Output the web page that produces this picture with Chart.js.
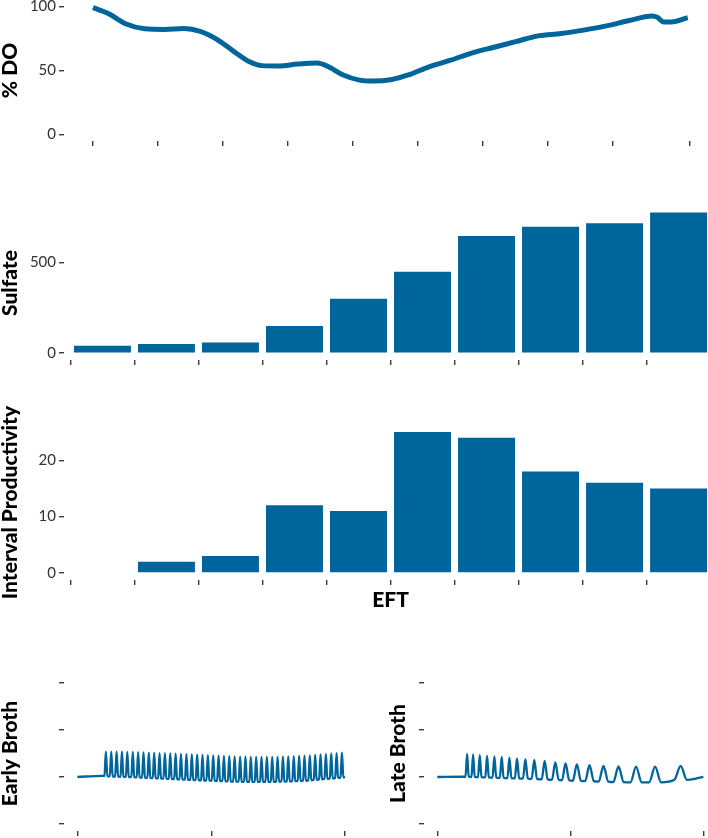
<!DOCTYPE html>
<html lang="en">
<head>
<meta charset="UTF-8">
<title>EFT panels</title>
<script src="https://cdn.jsdelivr.net/npm/chart.js"></script>
<style>
  body { margin: 0; background: #fff; overflow: hidden; }
  .page { position: relative; width: 708px; height: 838px; overflow: hidden; background: #fff; }
  canvas { position: absolute; }
</style>
</head>
<body>
<div class="page">
  <canvas id="doChart" width="720" height="159" style="left:0;top:-10px"></canvas>
  <canvas id="sulfateChart" width="720" height="182" style="left:0;top:186px"></canvas>
  <canvas id="prodChart" width="720" height="216" style="left:0;top:395px"></canvas>
  <canvas id="earlyChart" width="360" height="182" style="left:0;top:656px"></canvas>
  <canvas id="lateChart" width="360" height="182" style="left:360px;top:656px"></canvas>
</div>
<script>
// % DO trace (time in sample-interval units)
const doTime = [0, 0.25, 0.5, 0.8, 1.1, 1.4, 1.65, 1.9, 2.15, 2.4, 2.6, 2.85, 3.15, 3.45, 3.6, 3.85, 4.1, 4.3, 4.6, 4.85,
                5.15, 5.5, 5.85, 6.2, 6.5, 6.85, 7.2, 7.55, 7.9, 8.25, 8.6, 8.68, 8.78, 8.9, 9.15];
const doPct = [99, 94, 86.5, 82.5, 82, 82.7, 80.5, 74.5, 65.5, 57, 53.8, 53.5, 55, 55.8, 53.5, 46.5, 42.5, 41.8, 43, 46.5,
               52.5, 58, 64, 68.5, 72.5, 77, 78.8, 81.5, 84.8, 89, 92.5, 91.5, 87.8, 87.8, 91.2];
const doTicks = [0, 1, 2, 3, 4, 5, 6, 7, 8, 9.18];

// samples along EFT
const samples = [1, 2, 3, 4, 5, 6, 7, 8, 9, 10];
const sulfate = [40, 50, 58, 149, 300, 449, 647, 697, 717, 776];
const productivity = [null, 2, 3, 12, 11, 25, 24, 18, 16, 15];

// broth traces
const brothTicksX = [0, 1, 2];
const brothTicksY = [-1, 0, 1, 2];

const earlyLeadT = [0, 0.19];
const earlyLeadV = [0, 0.025];
const earlyPeakT = [0.213, 0.253, 0.293, 0.333, 0.373, 0.414, 0.454, 0.494, 0.534, 0.574, 0.614, 0.654, 0.694, 0.734, 0.774,
                    0.815, 0.855, 0.895, 0.935, 0.975, 1.015, 1.055, 1.095, 1.135, 1.175, 1.216, 1.256, 1.296, 1.336, 1.376,
                    1.416, 1.456, 1.496, 1.536, 1.576, 1.617, 1.657, 1.697, 1.737, 1.777, 1.817, 1.857, 1.897, 1.937, 1.977];
const earlyPeakV = [0.54, 0.54, 0.54, 0.54, 0.535, 0.535, 0.53, 0.525, 0.52, 0.515, 0.51, 0.505, 0.5, 0.495, 0.49,
                    0.485, 0.48, 0.475, 0.47, 0.465, 0.46, 0.455, 0.45, 0.445, 0.44, 0.435, 0.435, 0.43, 0.43, 0.43,
                    0.43, 0.43, 0.43, 0.435, 0.44, 0.445, 0.45, 0.455, 0.46, 0.47, 0.48, 0.49, 0.5, 0.51, 0.52];
const earlyBaseV = [0.02, 0.015, 0.01, 0.005, 0, -0.005, -0.01, -0.015, -0.02, -0.025, -0.03, -0.035, -0.04, -0.045, -0.05,
                    -0.055, -0.06, -0.065, -0.07, -0.075, -0.08, -0.085, -0.09, -0.095, -0.1, -0.1, -0.105, -0.105, -0.105, -0.105,
                    -0.105, -0.105, -0.1, -0.1, -0.095, -0.09, -0.085, -0.08, -0.07, -0.06, -0.05, -0.04, -0.03, -0.02, -0.01];
const earlyTailT = [2.0];
const earlyTailV = [0];

const lateLeadT = [0, 0.2];
const lateLeadV = [0, 0.005];
const latePeakT = [0.224, 0.269, 0.319, 0.374, 0.429, 0.484, 0.542, 0.599, 0.662, 0.729,
                   0.807, 0.887, 0.964, 1.049, 1.144, 1.249, 1.362, 1.494, 1.637, 1.829];
const latePeakV = [0.49, 0.48, 0.465, 0.45, 0.44, 0.425, 0.41, 0.395, 0.38, 0.365,
                   0.34, 0.31, 0.29, 0.27, 0.25, 0.235, 0.225, 0.22, 0.22, 0.235];
const lateBaseV = [0.005, 0, -0.005, -0.01, -0.015, -0.02, -0.025, -0.03, -0.035, -0.04,
                   -0.05, -0.06, -0.07, -0.08, -0.09, -0.1, -0.11, -0.115, -0.115, -0.06];
const lateHalfW = [0.012, 0.012, 0.013, 0.013, 0.014, 0.014, 0.015, 0.016, 0.018, 0.02,
                   0.022, 0.025, 0.027, 0.03, 0.033, 0.036, 0.039, 0.042, 0.045, 0.047];
const lateTailT = [1.95, 2.0];
const lateTailV = [-0.03, 0];

const BLUE = '#00659b';
const TICK_COLOR = '#3a3a3a';

function fixedTicks(values) {
    return function(scale) { scale.ticks = values.map(v => ({ value: v })); };
}

function yAxis(min, max, tickVals, title, titlePad, showLabels) {
    return {
        type: 'linear', min: min, max: max,
        afterBuildTicks: fixedTicks(tickVals),
        afterFit: function(s) { s.width = 64; s.paddingTop = 0; s.paddingBottom = 0; },
        grid: { drawOnChartArea: false, drawTicks: true, tickLength: 5, color: TICK_COLOR, lineWidth: 1.4 },
        border: { display: false },
        ticks: { display: showLabels, padding: 3, color: '#333', font: { family: 'Lato', size: 15 } },
        title: { display: true, text: title, color: '#000', padding: { top: titlePad, bottom: 0 },
                 font: { family: 'Lato', size: 21, weight: '900', lineHeight: 1 } }
    };
}

function xAxis(min, max, tickVals, height, title) {
    return {
        type: 'linear', min: min, max: max, offset: false,
        afterBuildTicks: fixedTicks(tickVals),
        afterFit: function(s) { s.height = height; s.paddingLeft = 0; s.paddingRight = 0; },
        grid: { drawOnChartArea: false, drawTicks: true, tickLength: 5, color: TICK_COLOR, lineWidth: 1.4 },
        border: { display: false },
        ticks: { display: false, autoSkip: false },
        title: { display: !!title, text: title || '', color: '#000', padding: { top: 0, bottom: 0 },
                 font: { family: 'Lato', size: 21, weight: '900', lineHeight: 1 } }
    };
}

function baseOptions(padTop, padRight, scales) {
    return {
        responsive: false, animation: false, devicePixelRatio: 1,
        layout: { padding: { left: 0, right: padRight, top: padTop, bottom: 0 } },
        plugins: { legend: { display: false }, tooltip: { enabled: false } },
        scales: scales
    };
}

function tracePoints(leadT, leadV, peakT, peakV, baseV, halfW, tailT, tailV) {
    const pts = leadT.map((t, i) => ({ x: t, y: leadV[i] }));
    peakT.forEach((t, i) => {
        const w = Array.isArray(halfW) ? halfW[i] : halfW;
        pts.push({ x: t - w, y: baseV[i] }, { x: t, y: peakV[i] }, { x: t + w, y: baseV[i] });
    });
    tailT.forEach((t, i) => pts.push({ x: t, y: tailV[i] }));
    return pts;
}

// % DO
new Chart(document.getElementById('doChart'), {
    type: 'line',
    data: { datasets: [{
        data: doTime.map((t, i) => ({ x: t, y: doPct[i] })),
        borderColor: BLUE, borderWidth: 5, pointRadius: 0,
        cubicInterpolationMode: 'monotone', clip: false
    }] },
    options: baseOptions(10, 3, {
        x: xAxis(-0.446, 9.6, doTicks, 8),
        y: yAxis(-5, 105, [0, 50, 100], '% DO', 0, true)
    })
});

// Sulfate
new Chart(document.getElementById('sulfateChart'), {
    type: 'bar',
    data: { datasets: [{
        data: samples.map((s, i) => ({ x: s, y: sulfate[i] })),
        backgroundColor: BLUE, barPercentage: 0.89, categoryPercentage: 1
    }] },
    options: baseOptions(20, 3, {
        x: xAxis(0.4, 10.6, samples, 8),
        y: yAxis(-38, 812, [0, 500], 'Sulfate', 0, true)
    })
});

// Interval productivity
new Chart(document.getElementById('prodChart'), {
    type: 'bar',
    data: { datasets: [{
        data: samples.map((s, i) => ({ x: s, y: productivity[i] })),
        backgroundColor: BLUE, barPercentage: 0.89, categoryPercentage: 1
    }] },
    options: baseOptions(30, 3, {
        x: xAxis(0.4, 10.6, samples, 31, 'EFT'),
        y: yAxis(-1.25, 26.25, [0, 10, 20], 'Interval Productivity', 0, true)
    })
});

// Early broth
new Chart(document.getElementById('earlyChart'), {
    type: 'line',
    data: { datasets: [{
        data: tracePoints(earlyLeadT, earlyLeadV, earlyPeakT, earlyPeakV, earlyBaseV, 0.0105, earlyTailT, earlyTailV),
        borderColor: BLUE, borderWidth: 2.3, pointRadius: 0, cubicInterpolationMode: 'monotone'
    }] },
    options: baseOptions(20, 1.6, {
        x: xAxis(-0.1, 2.1, brothTicksX, 7),
        y: yAxis(-1.15, 2.15, brothTicksY, 'Early Broth', 0, false)
    })
});

// Late broth
new Chart(document.getElementById('lateChart'), {
    type: 'line',
    data: { datasets: [{
        data: tracePoints(lateLeadT, lateLeadV, latePeakT, latePeakV, lateBaseV, lateHalfW, lateTailT, lateTailV),
        borderColor: BLUE, borderWidth: 2.3, pointRadius: 0, cubicInterpolationMode: 'monotone'
    }] },
    options: baseOptions(20, 3.3, {
        x: xAxis(-0.1, 2.1, brothTicksX, 7),
        y: yAxis(-1.15, 2.15, brothTicksY, 'Late Broth', 27.5, false)
    })
});
</script>
</body>
</html>
